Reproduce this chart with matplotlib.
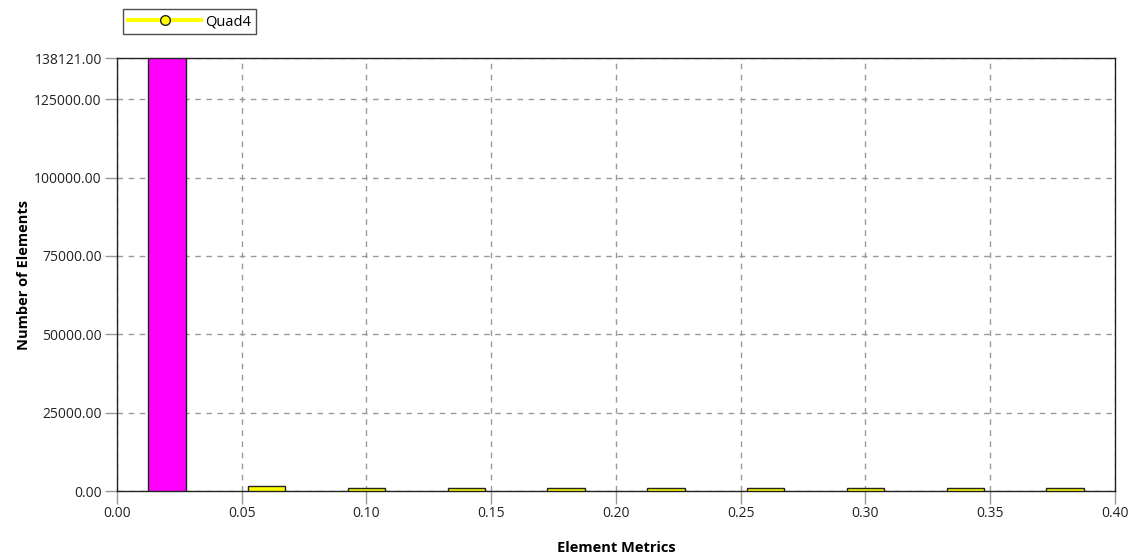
import matplotlib
matplotlib.use("Agg")
import matplotlib.pyplot as plt
from matplotlib.lines import Line2D

plt.rcParams['font.family'] = ['Open Sans', 'DejaVu Sans']

bin_centers = [0.02, 0.06, 0.10, 0.14, 0.18, 0.22, 0.26, 0.30, 0.34, 0.38]
counts = [138121, 1500, 900, 900, 900, 900, 900, 900, 900, 900]
bar_colors = ['#FF00FF'] + ['#FFFF00'] * 9
yticks = [0, 25000, 50000, 75000, 100000, 125000, 138121]
xticks = [0.00, 0.05, 0.10, 0.15, 0.20, 0.25, 0.30, 0.35, 0.40]
series_name = 'Quad4'

fig = plt.figure(figsize=(11.41, 5.54), dpi=100)
ax = fig.add_axes([0.1025, 0.1137, 0.8747, 0.7816])

ax.bar(bin_centers, counts, width=0.015, color=bar_colors, edgecolor='#222222',
       linewidth=1.0, zorder=3)

ax.set_xlim(0, 0.4)
ax.set_ylim(0, 138121)
ax.set_xticks(xticks)
ax.set_xticklabels([f'{v:.2f}' for v in xticks])
ax.set_yticks(yticks)
ax.set_yticklabels([f'{v:.2f}' for v in yticks])
ax.tick_params(axis='both', direction='out', length=9, width=1, color='#999999',
               labelsize=10, labelcolor='#222222', pad=2)
ax.grid(True, color='#999999', linestyle=(0, (4, 4)), linewidth=1, zorder=0)
for s in ax.spines.values():
    s.set_color('#222222')
    s.set_linewidth(1)

ax.set_xlabel('Element Metrics', fontsize=10.5, fontweight='bold', labelpad=14)
ax.set_ylabel('Number of Elements', fontsize=10.5, fontweight='bold', labelpad=2)

handle = Line2D([], [], color='#FFFF00', linewidth=3, marker='o', markersize=7,
                markerfacecolor='#FFFF00', markeredgecolor='#222222', markeredgewidth=1)
leg = fig.legend([handle], [series_name], loc='upper left',
                 bbox_to_anchor=(123 / 1141, 1 - 9 / 554), frameon=True, fancybox=False,
                 fontsize=10.5, handlelength=5, borderpad=0.35, edgecolor='#222222',
                 handletextpad=0.3, borderaxespad=0)
leg.get_frame().set_linewidth(1)

fig.savefig('out.png', dpi=100)
